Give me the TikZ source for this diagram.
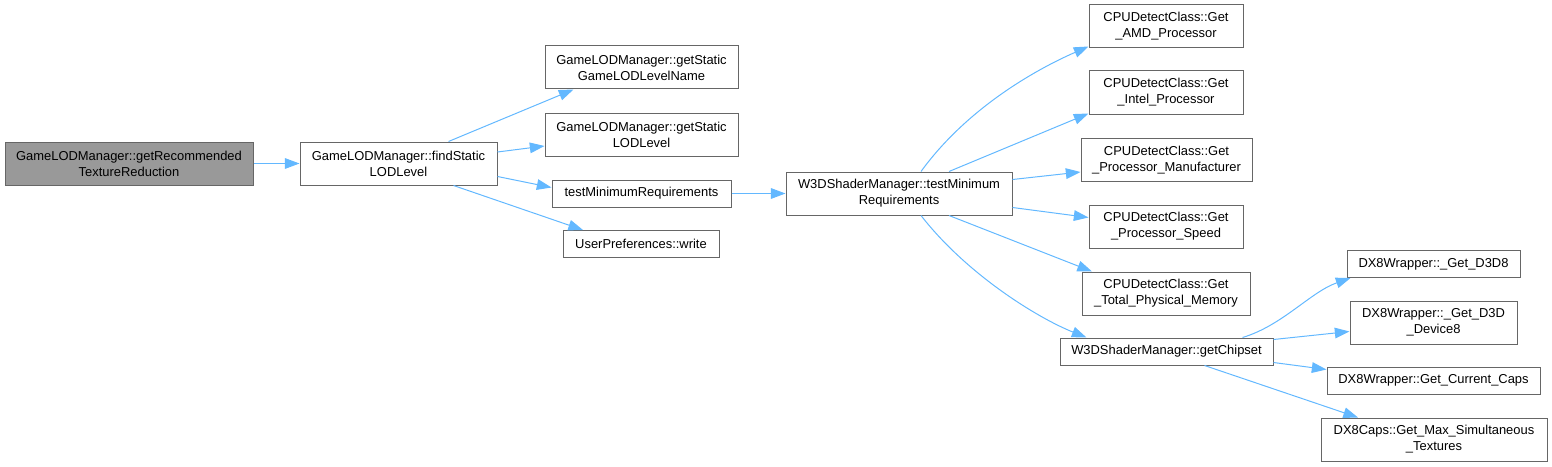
\documentclass[tikz,border=0pt]{standalone}
\usepackage{fontspec}
\setmainfont{Liberation Sans}
\usepackage{tikz}
\usetikzlibrary{arrows.meta, positioning, calc}
\definecolor{edgeblue}{RGB}{99,184,255}
\definecolor{boxgray}{RGB}{102,102,102}
\definecolor{mainfill}{RGB}{153,153,153}

\begin{document}
\begin{tikzpicture}[
        x=0.75pt, y=-0.75pt,
        % --- Style Definitions ---
        func_style/.style={rectangle, draw=boxgray, fill=white, line width=0.75pt, inner sep=0pt, align=center, font=\fontsize{9.7pt}{12pt}\selectfont, minimum height=32.25pt},
        one_line/.style={minimum height=20.25pt},
        main_style/.style={func_style, fill=mainfill},
        arrow/.style={draw=edgeblue, line width=0.75pt, -{Triangle[length=11pt, width=8pt]}}
    ]

        \useasboundingbox (0,0) rectangle (1552,467);

        %################################################################
        %### Call Graph #################################################
        %################################################################

        % --- Root ---
        \node[main_style, minimum width=186pt] (get_rec) at (129,163.5) {GameLODManager::getRecommended\\TextureReduction};
        \node[func_style, minimum width=147.75pt] (find_static) at (398.5,163.5) {GameLODManager::findStatic\\LODLevel};

        % --- Callees of findStaticLODLevel ---
        \node[func_style, minimum width=144.75pt] (get_name) at (641.5,67.5) {GameLODManager::getStatic\\GameLODLevelName};
        \node[func_style, minimum width=144.75pt] (get_lod) at (641.5,134.5) {GameLODManager::getStatic\\LODLevel};
        \node[func_style, one_line, minimum width=134.25pt] (test_min) at (641.5,193.5) {testMinimumRequirements};
        \node[func_style, one_line, minimum width=117pt] (user_pref) at (641,244) {UserPreferences::write};

        % --- Shader manager ---
        \node[func_style, minimum width=169.5pt] (w3d_test) at (899,193.5) {W3DShaderManager::testMinimum\\Requirements};

        % --- CPU detection ---
        \node[func_style, minimum width=115.5pt] (cpu_amd) at (1166,26.5) {CPUDetectClass::Get\\\_AMD\_Processor};
        \node[func_style, minimum width=115.5pt] (cpu_intel) at (1166,92.5) {CPUDetectClass::Get\\\_Intel\_Processor};
        \node[func_style, minimum width=128.25pt] (cpu_manuf) at (1166.5,160) {CPUDetectClass::Get\\\_Processor\_Manufacturer};
        \node[func_style, minimum width=115.5pt] (cpu_speed) at (1166,226.5) {CPUDetectClass::Get\\\_Processor\_Speed};
        \node[func_style, minimum width=126pt] (cpu_mem) at (1166,293.5) {CPUDetectClass::Get\\\_Total\_Physical\_Memory};
        \node[func_style, one_line, minimum width=159.75pt] (chipset) at (1166.5,351.5) {W3DShaderManager::getChipset};

        % --- DX8 wrapper ---
        \node[func_style, one_line, minimum width=129.75pt] (dx_d3d8) at (1433.5,264) {DX8Wrapper::\_Get\_D3D8};
        \node[func_style, minimum width=125.25pt] (dx_device) at (1433.5,322.5) {DX8Wrapper::\_Get\_D3D\\\_Device8};
        \node[func_style, one_line, minimum width=159.75pt] (dx_caps) at (1433.5,380.5) {DX8Wrapper::Get\_Current\_Caps};
        \node[func_style, minimum width=169.5pt] (dx_maxtex) at (1434,439.5) {DX8Caps::Get\_Max\_Simultaneous\\\_Textures};

        % --- Call Arrows ---
        \draw[arrow] (get_rec) -- (find_static);
        \draw[arrow] ($(find_static.north)+(50,0)$) -- ($(get_name.south)+(-68,0)$);
        \draw[arrow] ($(find_static.east)+(0,-11.5)$) -- ($(get_lod.west)+(0,11.5)$);
        \draw[arrow] ($(find_static.east)+(0,13)$) -- ($(test_min.west)+(0,-6)$);
        \draw[arrow] ($(find_static.south)+(55,0)$) -- ($(user_pref.north)+(-58,0)$);

        \draw[arrow] (test_min) -- (w3d_test);

        \draw[arrow] ($(w3d_test.north)+(22,0)$) .. controls +(45,-62) and +(-55,24) .. ($(cpu_amd.west)+(0,20)$);
        \draw[arrow] ($(w3d_test.north)+(50,0)$) -- ($(cpu_intel.west)+(0,21)$);
        \draw[arrow] ($(w3d_test.east)+(0,-14)$) -- ($(cpu_manuf.west)+(0,12)$);
        \draw[arrow] ($(w3d_test.east)+(0,14)$) -- ($(cpu_speed.west)+(0,-9)$);
        \draw[arrow] ($(w3d_test.south)+(50,0)$) -- ($(cpu_mem.north)+(-74,0)$);
        \draw[arrow] ($(w3d_test.south)+(22,0)$) .. controls +(45,58) and +(-50,-20) .. ($(chipset.north)+(-80,0)$);

        \draw[arrow] ($(chipset.north)+(76,0)$) .. controls +(40,-12) and +(-40,14) .. ($(dx_d3d8.south west)+(4,0)$);
        \draw[arrow] ($(chipset.east)+(0,-12)$) -- ($(dx_device.west)+(0,9)$);
        \draw[arrow] ($(chipset.east)+(0,11)$) -- ($(dx_caps.west)+(0,-11)$);
        \draw[arrow] ($(chipset.south)+(38,0)$) -- ($(dx_maxtex.north)+(-76,0)$);

    \end{tikzpicture}
\end{document}
